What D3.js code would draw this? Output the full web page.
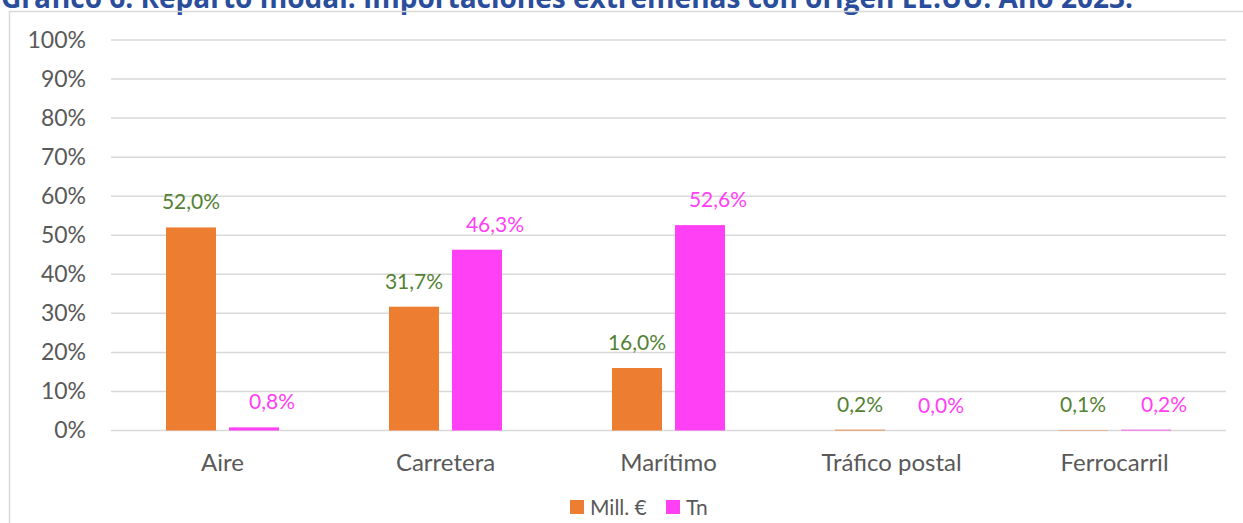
<!DOCTYPE html>
<html>
<head>
  <meta charset="utf-8" />
  <title>Reparto modal</title>
  <script src="https://d3js.org/d3.v7.min.js"></script>
  <style>
    body, html {
      margin: 0;
      width: 100%;
      height: 100%;
      background: #fff;
      overflow: hidden;
    }
    svg text { font-family: Lato, "Open Sans", sans-serif; }
  </style>
</head>
<body>
  <svg id="chart" width="1243" height="523"></svg>
  <script>
// data
var categories = ["Aire", "Carretera", "Marítimo", "Tráfico postal", "Ferrocarril"];
var seriesNames = ["Mill. €", "Tn"];
var millEuro = [52.0, 31.7, 16.0, 0.2, 0.1];
var toneladas = [0.8, 46.3, 52.6, 0.0, 0.2];
var yTicks = [0, 10, 20, 30, 40, 50, 60, 70, 80, 90, 100];

var colors = ["#ED7D31", "#FF40F5"];
var labelColors = ["#548235", "#FF40F5"];

var svg = d3.select("#chart");

// title, cut off at the top in the original
svg.append("text")
  .attr("x", 1)
  .attr("y", 8)
  .attr("font-size", 28)
  .attr("font-weight", "bold")
  .attr("fill", "#2A4E9B")
  .style("font-family", "'Open Sans', sans-serif")
  .text("Gráfico 6. Reparto modal. Importaciones extremeñas con origen EE.UU. Año 2023.");

// chart frame
svg.append("rect")
  .attr("x", 9.5).attr("y", 11.5)
  .attr("width", 1400).attr("height", 700)
  .attr("fill", "none")
  .attr("stroke", "#d9d9d9")
  .attr("stroke-width", 1.5);

var plotLeft = 111, plotRight = 1226, plotTop = 40, plotBottom = 430.5;

var x = d3.scaleBand().domain(categories).range([plotLeft, plotRight]);
var y = d3.scaleLinear().domain([0, 100]).range([plotBottom, plotTop]);

// gridlines
svg.append("g")
  .selectAll("line")
  .data(yTicks)
  .enter().append("line")
  .attr("x1", plotLeft).attr("x2", plotRight)
  .attr("y1", function(d) { return y(d); })
  .attr("y2", function(d) { return y(d); })
  .attr("stroke", "#d9d9d9")
  .attr("stroke-width", 1.5);

// y axis labels
var yAxis = d3.axisLeft(y).tickValues(yTicks).tickSize(0).tickPadding(0)
  .tickFormat(function(d) { return d + "%"; });
var gy = svg.append("g").attr("transform", "translate(86,0)").call(yAxis);
gy.select(".domain").remove();
gy.selectAll("text").attr("font-size", 23).attr("fill", "#595959")
  .style("font-family", "Lato, sans-serif");

// x axis labels
var xAxis = d3.axisBottom(x).tickSize(0).tickPadding(0);
var gx = svg.append("g").attr("transform", "translate(0,454)").call(xAxis);
gx.select(".domain").remove();
gx.selectAll("text").attr("font-size", 24).attr("fill", "#595959")
  .style("font-family", "Lato, sans-serif");

// bars
var inner = d3.scaleBand().domain([0, 1]).range([0, x.bandwidth()]).paddingInner(0.206).paddingOuter(0.873);
var allSeries = [millEuro, toneladas];
var labelDx = [0, 18];

allSeries.forEach(function(vals, s) {
  var g = svg.append("g");
  g.selectAll("rect")
    .data(vals)
    .enter().append("rect")
    .attr("x", function(d, i) { return x(categories[i]) + inner(s); })
    .attr("y", function(d) { return y(d); })
    .attr("width", inner.bandwidth())
    .attr("height", function(d) { return plotBottom - y(d); })
    .attr("fill", colors[s]);

  g.selectAll("text")
    .data(vals)
    .enter().append("text")
    .attr("x", function(d, i) { return x(categories[i]) + inner(s) + inner.bandwidth() / 2 + labelDx[s]; })
    .attr("y", function(d) { return y(d) - 18; })
    .attr("text-anchor", "middle")
    .attr("font-size", 21)
    .attr("fill", labelColors[s])
    .text(function(d) { return d.toFixed(1).replace(".", ",") + "%"; });
});

// legend
var legend = svg.append("g").attr("transform", "translate(570,500)");
var lx = [0, 96];
seriesNames.forEach(function(name, s) {
  legend.append("rect")
    .attr("x", lx[s]).attr("y", 0)
    .attr("width", 14).attr("height", 14)
    .attr("fill", colors[s]);
  legend.append("text")
    .attr("x", lx[s] + 20).attr("y", 15)
    .attr("font-size", 21)
    .attr("fill", "#595959")
    .text(name);
});
  </script>
</body>
</html>
